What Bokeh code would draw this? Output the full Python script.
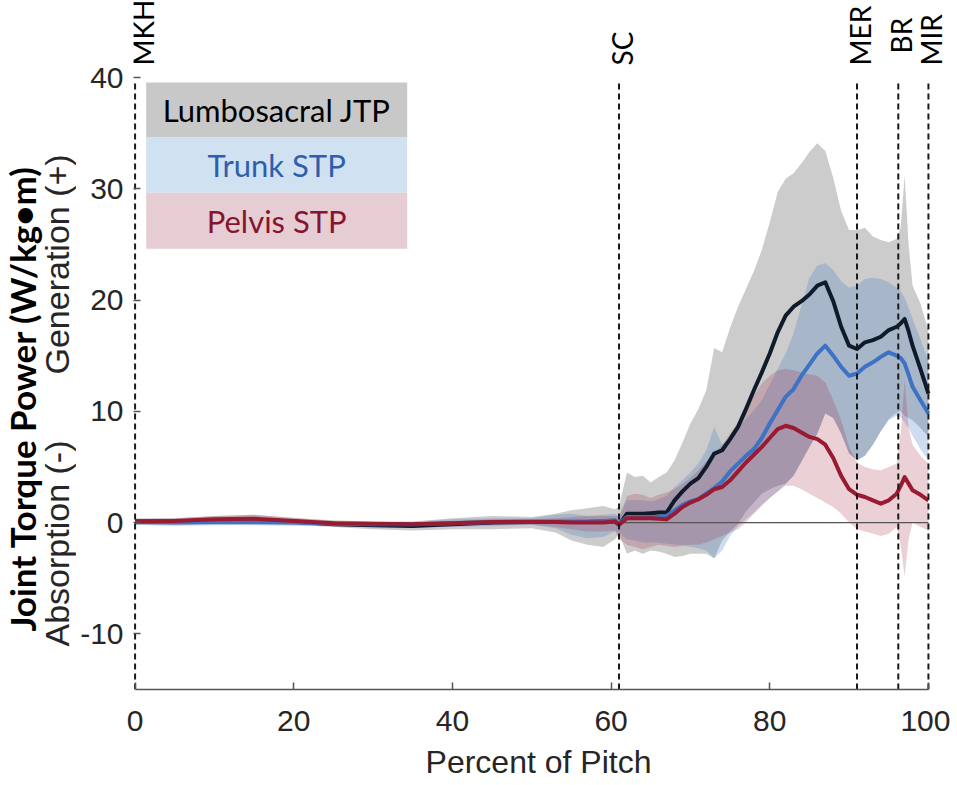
import math
from bokeh.plotting import figure
from bokeh.layouts import row
from bokeh.models import Range1d, Label, FixedTicker, NumeralTickFormatter
from bokeh.embed import file_html
from bokeh.resources import INLINE

# ---------------- data ----------------
pct = [0, 5, 10, 15, 20, 25, 30, 35, 40, 45, 50, 53, 55, 57, 59, 60.5, 61, 62, 63, 64,
       65, 66, 67, 68, 69, 70, 71, 72, 73, 74, 75, 76, 77, 78, 79, 80, 81, 82, 83, 84,
       85, 86, 87, 88, 89, 90, 91, 92, 93, 94, 95, 96, 96.5, 97, 97.5, 98, 99, 100]

lumbo_mean = [0.1, 0.1, 0.2, 0.2, 0.1, -0.15, -0.25, -0.3, -0.15, 0.0, 0.05, 0.05, 0.05, 0.05, 0.1, 0.1, -0.2, 0.8, 0.8, 0.8,
              0.85, 0.9, 0.9, 2.0, 2.8, 3.5, 4.0, 5.0, 6.2, 6.5, 7.5, 8.6, 10.2, 11.9, 13.5, 15.2, 17.1, 18.6, 19.4, 19.9,
              20.5, 21.3, 21.6, 19.9, 17.6, 15.9, 15.6, 16.2, 16.4, 16.7, 17.3, 17.6, 17.9, 18.3, 17.2, 15.9, 13.8, 11.6]
lumbo_hi = [0.4, 0.4, 0.6, 0.7, 0.4, 0.2, 0.1, 0.1, 0.4, 0.6, 0.5, 0.8, 1.1, 1.3, 1.5, 1.2, 1.5, 4.5, 4.1, 4.2,
            3.6, 4.1, 4.5, 5.6, 7.2, 8.9, 10.2, 11.9, 15.7, 15.3, 17.5, 19.4, 21.0, 22.6, 24.5, 27.0, 29.7, 30.9, 31.4, 32.3,
            33.3, 34.1, 33.4, 31.0, 28.0, 26.3, 26.3, 26.5, 25.7, 25.4, 25.2, 25.5, 26.5, 31.2, 25.0, 21.3, 19.7, 17.2]
lumbo_lo = [-0.2, -0.2, -0.2, -0.2, -0.2, -0.4, -0.6, -0.7, -0.6, -0.6, -0.5, -0.9, -1.6, -2.0, -2.2, -1.5, -1.0, -2.8, -2.5, -2.8,
            -2.5, -2.6, -2.8, -3.1, -3.0, -2.8, -2.8, -2.8, -3.2, -1.6, -0.8, -0.1, 1.0, 1.8, 2.6, 3.0, 3.3, 3.5, 4.2, 5.5,
            6.8, 8.0, 9.8, 9.4, 8.0, 6.2, 5.6, 6.0, 7.0, 8.2, 9.3, 9.9, 10.0, 9.6, 9.4, 9.2, 8.5, 7.7]

trunk_mean = [0.05, 0.0, 0.05, 0.05, 0.0, -0.1, -0.15, -0.15, -0.05, 0.05, 0.1, 0.1, 0.1, 0.1, 0.15, 0.2, -0.1, 0.5, 0.5, 0.5,
              0.5, 0.5, 0.6, 1.1, 1.6, 1.9, 2.1, 2.6, 3.1, 3.7, 4.6, 5.3, 6.0, 6.6, 7.6, 8.9, 10.1, 11.3, 12.0, 13.2,
              14.2, 15.2, 15.9, 15.0, 14.0, 13.2, 13.4, 14.0, 14.4, 14.9, 15.3, 15.0, 14.8, 14.3, 13.3, 12.2, 11.0, 9.8]
trunk_hi = [0.3, 0.3, 0.35, 0.35, 0.3, 0.1, 0.0, 0.05, 0.3, 0.4, 0.4, 0.7, 0.8, 0.6, 0.7, 0.8, 0.6, 2.0, 2.0, 2.0,
            1.9, 2.1, 2.4, 3.2, 3.8, 4.5, 5.3, 6.5, 8.6, 7.0, 7.6, 8.5, 9.3, 10.1, 11.0, 12.4, 13.8, 15.2, 17.0, 19.5,
            22.0, 23.1, 23.3, 22.7, 21.7, 21.1, 21.3, 21.9, 22.0, 21.9, 21.6, 21.1, 20.8, 20.2, 19.3, 18.3, 16.5, 14.5]
trunk_lo = [-0.2, -0.3, -0.25, -0.25, -0.3, -0.3, -0.3, -0.35, -0.4, -0.3, -0.2, -0.5, -1.1, -1.4, -1.3, -0.8, -0.9, -1.5, -1.6, -1.8,
            -1.8, -1.8, -1.9, -2.0, -2.0, -2.2, -2.3, -2.5, -3.2, -2.5, -1.2, -0.3, 0.3, 0.9, 1.6, 2.2, 2.8, 3.5, 4.2, 5.5,
            6.8, 8.0, 9.8, 9.4, 8.0, 6.2, 5.6, 6.0, 7.0, 8.2, 9.2, 9.6, 9.5, 9.0, 8.5, 7.8, 6.6, 5.6]

pelvis_mean = [0.1, 0.15, 0.3, 0.35, 0.15, -0.05, -0.1, -0.15, -0.05, 0.05, 0.05, 0.05, 0.0, 0.0, 0.0, 0.1, -0.2, 0.4, 0.4, 0.4,
               0.4, 0.35, 0.3, 0.8, 1.4, 1.8, 2.1, 2.5, 3.0, 3.2, 3.8, 4.6, 5.4, 6.1, 6.8, 7.6, 8.4, 8.7, 8.5, 8.1,
               7.7, 7.5, 7.0, 5.8, 4.2, 3.0, 2.5, 2.3, 2.0, 1.7, 2.0, 2.6, 3.3, 4.1, 3.5, 2.9, 2.5, 2.0]
pelvis_hi = [0.3, 0.4, 0.6, 0.7, 0.45, 0.15, 0.05, 0.0, 0.15, 0.3, 0.3, 0.4, 0.5, 0.6, 0.6, 0.6, 0.5, 2.4, 2.6, 2.5,
             2.2, 2.5, 2.7, 3.0, 3.5, 4.0, 4.7, 5.5, 6.2, 7.0, 8.0, 9.0, 10.2, 11.4, 12.5, 13.2, 13.7, 13.8, 13.7, 13.5,
             13.3, 13.2, 12.6, 11.0, 9.2, 6.8, 5.4, 5.0, 4.8, 4.7, 5.0, 5.3, 8.0, 12.8, 8.5, 7.0, 6.0, 5.3]
pelvis_lo = [-0.1, -0.1, 0.0, 0.0, -0.15, -0.3, -0.35, -0.35, -0.3, -0.2, -0.2, -0.4, -0.6, -0.8, -0.8, -0.7, -1.5, -2.0, -2.2, -2.4,
             -2.2, -2.0, -2.1, -2.2, -2.1, -2.0, -2.0, -1.8, -1.5, -1.2, -0.9, -0.6, 0.0, 0.8, 1.5, 2.2, 2.8, 3.3, 3.3, 3.0,
             2.6, 2.2, 1.8, 1.4, 0.8, 0.0, -0.6, -0.8, -1.0, -1.2, -1.0, -0.4, -2.0, -4.9, -1.5, 0.0, -0.4, -0.7]

event_names = ["MKH", "SC", "MER", "BR", "MIR"]
event_x = [0, 61, 91, 96.2, 100]

x_ticks = [0, 20, 40, 60, 80, 100]
y_ticks = [-10, 0, 10, 20, 30, 40]
legend_names = ["Lumbosacral JTP", "Trunk STP", "Pelvis STP"]

# ---------------- layout geometry ----------------
H = 785
STRIP_W = 76
TICK_FONT = "Liberation Sans"
CAL_FONT = "Lato"

# ---------------- main figure ----------------
p = figure(width=874, height=H, x_range=Range1d(-0.2, 101.9), y_range=Range1d(-15, 46.92),
           output_backend="svg", toolbar_location=None, title=None,
           min_border_left=57, min_border_right=7, min_border_top=0, min_border_bottom=96)
p.background_fill_color = "white"
p.border_fill_color = "white"
p.outline_line_color = None
p.grid.visible = False

for ax in (p.xaxis[0], p.yaxis[0]):
    ax.major_label_text_font = TICK_FONT
    ax.major_label_text_font_size = "30px"
    ax.major_label_text_color = "#262626"
    ax.major_tick_in = 7
    ax.major_tick_out = 0
    ax.major_tick_line_color = "#555555"
    ax.major_tick_line_width = 1.5
    ax.minor_tick_line_color = None
    ax.formatter = NumeralTickFormatter(format="0")
p.xaxis.ticker = FixedTicker(ticks=x_ticks)
p.yaxis.ticker = FixedTicker(ticks=y_ticks)
p.xaxis.bounds = (x_ticks[0], x_ticks[-1])
p.xaxis.axis_line_color = "#555555"
p.xaxis.axis_line_width = 1.5
p.yaxis.axis_line_color = None
p.xaxis.major_label_standoff = 21
p.yaxis.major_label_standoff = 10
p.xaxis.axis_label = "Percent of Pitch"
p.xaxis.axis_label_text_font = TICK_FONT
p.xaxis.axis_label_text_font_size = "32px"
p.xaxis.axis_label_text_font_style = "normal"
p.xaxis.axis_label_text_color = "#262626"
p.xaxis.axis_label_standoff = 10

# bands
p.varea(x=pct, y1=lumbo_lo, y2=lumbo_hi, fill_color="#808080", fill_alpha=0.4)
p.varea(x=pct, y1=trunk_lo, y2=trunk_hi, fill_color="#3d72c4", fill_alpha=0.25)
p.varea(x=pct, y1=pelvis_lo, y2=pelvis_hi, fill_color="#9a1a32", fill_alpha=0.2)

# zero reference line
p.segment(x0=pct[0], y0=0, x1=pct[-1], y1=0, line_color="#555555", line_width=1.2)

# mean curves
p.line(pct, lumbo_mean, line_color="#0f1b2b", line_width=4, line_join="round")
p.line(pct, trunk_mean, line_color="#3d72c4", line_width=4, line_join="round")
p.line(pct, pelvis_mean, line_color="#9a1a32", line_width=4, line_join="round")

# event lines
p.segment(x0=event_x, y0=[-15] * len(event_x), x1=event_x, y1=[39.6] * len(event_x),
          line_color="#1a1a1a", line_width=2, line_dash="6 4")

for name, ex in zip(event_names, event_x):
    yb = 42.16 if name == "BR" else 41.08
    dx = 1.0 if name == "MKH" else 0.35
    p.add_layout(Label(x=ex + dx, y=yb, text=name, angle=math.pi / 2, text_align="left",
                       text_baseline="middle", text_font=CAL_FONT, text_font_size="28px",
                       text_color="black"))

# legend box
leg_fill = ["#c8c8c8", "#d0e2f2", "#e6cdd3"]
leg_text = ["#000000", "#2d5fae", "#86142e"]
tops = [39.55, 34.6, 29.65]
bots = [34.6, 29.65, 24.6]
p.quad(left=1.4, right=34.3, bottom=bots, top=tops, fill_color=leg_fill, line_color=None)
for name, t, b, c in zip(legend_names, tops, bots, leg_text):
    p.add_layout(Label(x=17.85, y=(t + b) / 2, text=name, text_align="center", text_baseline="middle",
                       text_font=CAL_FONT, text_font_size="31px", text_color=c))

# ---------------- left strip carrying the y-axis title texts ----------------
# shares the main y range (row layouts align the frames), x in pixels
strip = figure(width=STRIP_W, height=H, x_range=Range1d(0, STRIP_W), y_range=p.y_range,
               x_axis_type=None, y_axis_type=None, output_backend="svg", toolbar_location=None,
               title=None, min_border_left=0, min_border_right=0, min_border_top=0, min_border_bottom=96)
strip.outline_line_color = None
strip.background_fill_color = "white"
strip.border_fill_color = "white"
strip.add_layout(Label(x=21.5, y=11.15, text="Joint Torque Power (W/kg\u2022m)", angle=math.pi / 2,
                       text_align="center", text_baseline="middle", text_font=CAL_FONT,
                       text_font_style="bold", text_font_size="35px", text_color="black"))
strip.add_layout(Label(x=56.5, y=23.2, text="Generation (+)", angle=math.pi / 2,
                       text_align="center", text_baseline="middle", text_font=TICK_FONT,
                       text_font_size="34px", text_color="#262626"))
strip.add_layout(Label(x=56.5, y=-1.88, text="Absorption (-)", angle=math.pi / 2,
                       text_align="center", text_baseline="middle", text_font=TICK_FONT,
                       text_font_size="34px", text_color="#262626"))

layout = row(strip, p)
open("out.html", "w").write(file_html(layout, INLINE))
